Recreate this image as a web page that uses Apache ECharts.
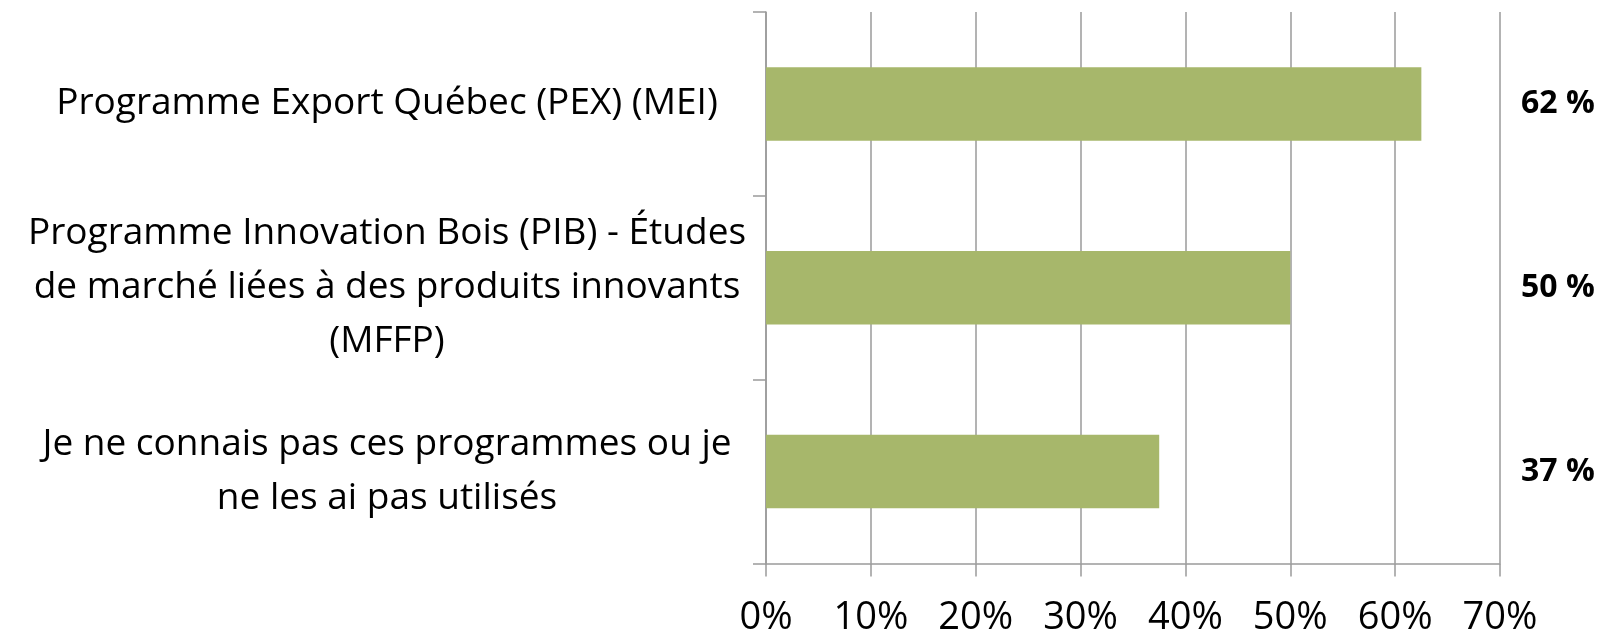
<!DOCTYPE html>
<html>
<head>
<meta charset="UTF-8">
<title>Programmes</title>
<script src="https://cdn.jsdelivr.net/npm/echarts@6/dist/echarts.min.js"></script>
<style>
  html, body { margin: 0; padding: 0; background: #fff; }
</style>
</head>
<body>
    <div id="main" style="width: 1610px;height:634px;"></div>

    <script type="text/javascript">
        // catégories (avec retours à la ligne comme dans l'original)
        var categories = [
            'Programme Export Québec (PEX) (MEI)',
            'Programme Innovation Bois (PIB) - Études\nde marché liées à des produits innovants\n(MFFP)',
            'Je ne connais pas ces programmes ou je\nne les ai pas utilisés'
        ];
        // valeurs des barres (%)
        var values = [62.5, 50, 37.5];
        // étiquettes affichées à droite
        var valueLabels = ['62 %', '50 %', '37 %'];
        // graduations de l'axe horizontal
        var xTicks = [0, 10, 20, 30, 40, 50, 60, 70];

        var myChart = echarts.init(document.getElementById('main'));

        var gridColor = '#9a9a9a';
        var font = '"Open Sans", "Noto Sans", sans-serif';

        var option = {
            animation: false,
            grid: { left: 766, right: 110, top: 12, bottom: 70.5, outerBoundsMode: 'none' },
            xAxis: {
                type: 'value',
                min: xTicks[0],
                max: xTicks[xTicks.length - 1],
                interval: xTicks[1] - xTicks[0],
                axisLine: { show: true, lineStyle: { color: gridColor, width: 1.5 } },
                axisTick: { show: true, length: 13, lineStyle: { color: gridColor, width: 1.5 } },
                splitLine: { show: true, lineStyle: { color: gridColor, width: 1.5 } },
                axisLabel: {
                    formatter: '{value}%',
                    color: '#000',
                    fontFamily: font,
                    fontSize: 38,
                    margin: 36
                }
            },
            yAxis: [{
                type: 'category',
                data: categories,
                inverse: true,
                axisLine: { show: true, lineStyle: { color: gridColor, width: 1.5 } },
                axisTick: { show: true, length: 13, lineStyle: { color: gridColor, width: 1.5 } },
                axisLabel: {
                    margin: 14,
                    align: 'right',
                    formatter: function (v) {
                        return v.split('\n').map(function (l) { return '{a|' + l + '}'; }).join('\n');
                    },
                    rich: {
                        a: {
                            width: 730,
                            align: 'center',
                            color: '#000',
                            fontFamily: font,
                            fontSize: 37,
                            lineHeight: 54
                        }
                    }
                }
            }, {
                type: 'category',
                data: valueLabels,
                inverse: true,
                position: 'right',
                axisLine: { show: false },
                axisTick: { show: false },
                axisLabel: {
                    margin: 21,
                    color: '#000',
                    fontFamily: font,
                    fontWeight: 'bold',
                    fontSize: 32
                }
            }],
            series: [{
                type: 'bar',
                data: values,
                barWidth: '40%',
                itemStyle: { color: '#a7b76b' }
            }]
        };
        myChart.setOption(option);
    </script>
</body>
</html>
